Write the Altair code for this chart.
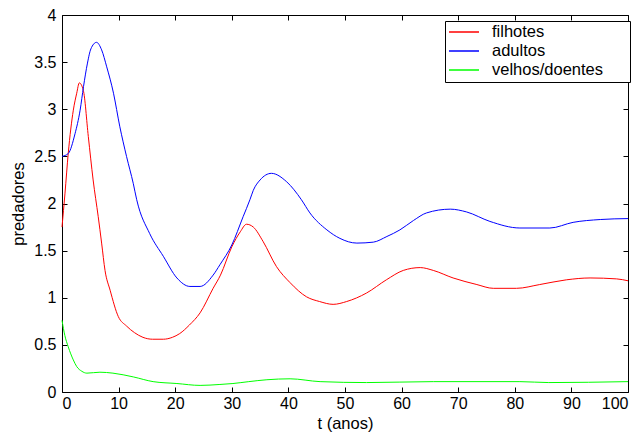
import altair as alt
import pandas as pd

series_names = ["filhotes", "adultos", "velhos/doentes"]
series_colors = ["#ff0000", "#0000ff", "#00ff00"]

t_filhotes = [0, 0.53, 1.1, 2.0, 2.6, 3.06, 3.77, 4.65, 5.5, 6.4, 7.0, 7.6, 8.5, 9.95,
              11.4, 12.8, 14.3, 16, 17.9, 19.5, 20.8, 22.5, 24.4, 26.7, 28, 30,
              31.5, 32.6, 33.8, 35.5, 37.9, 40.3, 43.2, 45.5, 47.9, 50.3, 53.8, 57.3,
              60.3, 63.3, 65.6, 69.1, 73.3, 76.2, 80.3, 84.4, 89.1, 93.3, 98, 100]
y_filhotes = [1.75, 2.11, 2.53, 2.99, 3.17, 3.28, 3.20, 2.71, 2.25, 1.86, 1.58, 1.29, 1.08,
              0.80, 0.70, 0.63, 0.58, 0.56, 0.56, 0.58, 0.62, 0.71, 0.84,
              1.10, 1.24, 1.54, 1.70, 1.78, 1.75, 1.60, 1.33, 1.16, 1.01, 0.96, 0.93, 0.96,
              1.05, 1.19, 1.29, 1.32, 1.29, 1.21, 1.14, 1.10, 1.10, 1.14, 1.19, 1.21, 1.20, 1.18]

t_adultos = [0, 1.1, 2.3, 3.2, 3.8, 4.5, 5.1, 6.1, 7.0, 7.9, 9.1, 10.2, 11.4, 12.6, 13.2,
             15.5, 17.9, 20.3, 22.6, 24.4, 26.7, 27.9, 30, 32, 33.2, 33.8, 35, 37.0, 39.7,
             42.3, 43.8, 46.8, 49.1, 52.1, 55, 57.4, 59.7, 62.1, 64.4, 68.6, 71.5, 75.6,
             80.9, 86.2, 90.3, 95.1, 100]
y_adultos = [2.50, 2.53, 2.74, 2.99, 3.24, 3.49, 3.64, 3.71, 3.63, 3.45, 3.17, 2.82, 2.50,
             2.21, 2.04, 1.68, 1.44, 1.21, 1.12, 1.12, 1.24, 1.35, 1.56, 1.86, 2.04, 2.14,
             2.25, 2.32, 2.23, 2.04, 1.90, 1.72, 1.63, 1.58, 1.59, 1.65, 1.72, 1.82, 1.90,
             1.94, 1.91, 1.81, 1.74, 1.74, 1.80, 1.83, 1.84]

t_velhos = [0, 0.5, 1.1, 2.0, 2.6, 3.5, 4.4, 6.7, 9, 12.6, 16.1, 20.3, 24.4, 27.9, 30.2,
            33, 36.2, 40.3, 45.6, 53.8, 65.6, 80.9, 86, 100]
y_velhos = [0.76, 0.60, 0.48, 0.34, 0.27, 0.22, 0.20, 0.21, 0.20, 0.16, 0.11, 0.09, 0.07,
            0.08, 0.09, 0.11, 0.13, 0.14, 0.11, 0.10, 0.11, 0.11, 0.10, 0.11]

x_ticks = [0, 10, 20, 30, 40, 50, 60, 70, 80, 90, 100]
y_ticks = [0, 0.5, 1, 1.5, 2, 2.5, 3, 3.5, 4]

rows = []
for name, ts, ys in [(series_names[0], t_filhotes, y_filhotes),
                     (series_names[1], t_adultos, y_adultos),
                     (series_names[2], t_velhos, y_velhos)]:
    for i, (t, y) in enumerate(zip(ts, ys)):
        rows.append({"serie": name, "t": t, "valor": y, "ordem": i})
df = pd.DataFrame(rows)

FONT = "Liberation Sans"
xscale = alt.Scale(domain=[0, 100], nice=False, zero=False)
yscale = alt.Scale(domain=[0, 4], nice=False, zero=False)

base = alt.Chart(df)

lines = base.mark_line(strokeWidth=1.0, interpolate="monotone").encode(
    x=alt.X("t:Q", scale=xscale, title="t (anos)",
            axis=alt.Axis(orient="bottom", values=x_ticks, offset=-5, tickSize=5,
                          domain=False, grid=False, labelPadding=3, titlePadding=4,
                          format="d", labelFont=FONT, labelFontSize=16,
                          titleFont=FONT, titleFontSize=16.5, titleFontWeight="normal",
                          labelColor="#000000", titleColor="#000000",
                          tickColor="#000000")),
    y=alt.Y("valor:Q", scale=yscale, title="predadores",
            axis=alt.Axis(orient="left", values=y_ticks, offset=-5, tickSize=5,
                          domain=False, grid=False, labelPadding=6, titlePadding=7,
                          format="~g", labelFont=FONT, labelFontSize=16,
                          titleFont=FONT, titleFontSize=16.5, titleFontWeight="normal",
                          labelColor="#000000", titleColor="#000000",
                          tickColor="#000000")),
    color=alt.Color("serie:N", scale=alt.Scale(domain=series_names, range=series_colors),
                    sort=series_names,
                    legend=alt.Legend(title=None, orient="none", legendX=383, legendY=6,
                                      symbolType="stroke", symbolSize=900,
                                      symbolStrokeWidth=1.5, clipHeight=16,
                                      labelOffset=12, rowPadding=2, padding=3,
                                      strokeColor="#000000", fillColor="#ffffff",
                                      labelFontSize=16.5, labelFont=FONT,
                                      labelColor="#000000",
                                      labelExpr="datum.label + '\u2800\u2800'")),
    order="ordem:Q",
)

ticks = base.mark_line(strokeOpacity=0).encode(
    x=alt.X("t:Q", scale=xscale, title=None,
            axis=alt.Axis(orient="top", values=x_ticks, offset=-5, tickSize=5,
                          domain=False, grid=False, labels=False, tickColor="#000000")),
    y=alt.Y("valor:Q", scale=yscale, title=None,
            axis=alt.Axis(orient="right", values=y_ticks, offset=-5, tickSize=5,
                          domain=False, grid=False, labels=False, tickColor="#000000")),
    detail="serie:N",
)

chart = alt.layer(lines, ticks).properties(
    width=566, height=377,
    autosize=alt.AutoSizeParams(type="none"),
    padding={"left": 54, "top": 7, "right": 8, "bottom": 40},
    background="#ffffff",
).configure_view(
    stroke="#000000", strokeWidth=1
)

chart.save("out.html", embed_options={"renderer": "svg", "actions": False})
